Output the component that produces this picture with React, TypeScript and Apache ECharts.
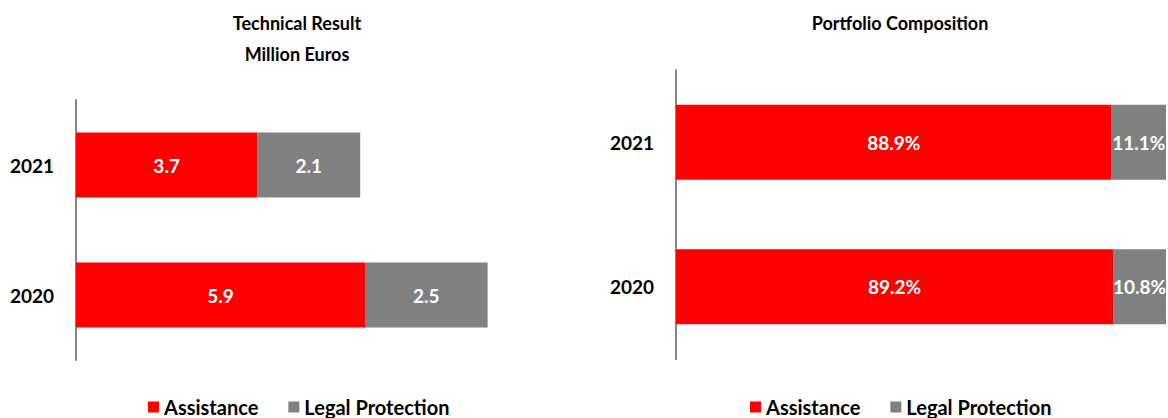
import React, { useEffect, useRef } from "react";
import * as echarts from "echarts";

const years = ["2020", "2021"];
const techAssistance = [5.9, 3.7];
const techLegal = [2.5, 2.1];
const portAssistance = [89.2, 88.9];
const portLegal = [10.8, 11.1];
const seriesNames = ["Assistance", "Legal Protection"];

const RED = "#FF0000";
const GREY = "#808080";
const FONT = "Lato";

export default function App() {
  const ref = useRef<HTMLDivElement>(null);
  useEffect(() => {
    document.body.style.margin = "0";
    const chart = echarts.init(ref.current!, null, { renderer: "svg" });
    const label = (fmt: (v: number) => string) => ({
      show: true,
      position: "inside",
      color: "#fff",
      fontFamily: FONT,
      fontWeight: "bold",
      fontSize: 19,
      formatter: (p: any) => fmt(p.value),
    });
    const catAxis = (gi: number) => ({
      type: "category",
      gridIndex: gi,
      data: years,
      axisLine: { show: true, lineStyle: { color: "#868686", width: 2 } },
      axisTick: { show: false },
      axisLabel: {
        color: "#000",
        fontFamily: FONT,
        fontWeight: "bold",
        fontSize: 19,
        margin: 22,
      },
    });
    const valAxis = (gi: number, max: number) => ({
      type: "value",
      gridIndex: gi,
      min: 0,
      max,
      show: false,
      splitLine: { show: false },
    });
    const legendCommon = {
      data: seriesNames,
      itemWidth: 11,
      itemHeight: 11,
      itemGap: 30,
      padding: 0,
      icon: "rect",
      textStyle: { fontFamily: FONT, fontWeight: "bold", fontSize: 20, color: "#000" },
      selectedMode: false,
    };
    const titleStyle = {
      fontFamily: FONT,
      fontWeight: "bold",
      fontSize: 18,
      color: "#000",
      lineHeight: 31,
    };
    chart.setOption({
      animation: false,
      title: [
        {
          text: "Technical Result\nMillion Euros",
          left: 292,
          textAlign: "center",
          top: 2,
          textStyle: titleStyle,
        },
        {
          text: "Portfolio Composition",
          left: 895,
          textAlign: "center",
          top: 2,
          textStyle: titleStyle,
        },
      ],
      legend: [
        { ...legendCommon, left: 148, top: 397 },
        { ...legendCommon, left: 750, top: 397 },
      ],
      grid: [
        { left: 76, top: 100, width: 490, height: 260, containLabel: false },
        { left: 676, top: 70, width: 490, height: 289, containLabel: false },
      ],
      xAxis: [valAxis(0, 10), valAxis(1, 100)],
      yAxis: [catAxis(0), catAxis(1)],
      series: [
        {
          name: seriesNames[0],
          type: "bar",
          stack: "a",
          xAxisIndex: 0,
          yAxisIndex: 0,
          data: techAssistance,
          barWidth: 65,
          itemStyle: { color: RED },
          label: label((v) => v.toFixed(1)),
        },
        {
          name: seriesNames[1],
          type: "bar",
          stack: "a",
          xAxisIndex: 0,
          yAxisIndex: 0,
          data: techLegal,
          barWidth: 65,
          itemStyle: { color: GREY },
          label: label((v) => v.toFixed(1)),
        },
        {
          name: seriesNames[0],
          type: "bar",
          stack: "b",
          xAxisIndex: 1,
          yAxisIndex: 1,
          data: portAssistance,
          barWidth: 75,
          itemStyle: { color: RED },
          label: label((v) => v.toFixed(1) + "%"),
        },
        {
          name: seriesNames[1],
          type: "bar",
          stack: "b",
          xAxisIndex: 1,
          yAxisIndex: 1,
          data: portLegal,
          barWidth: 75,
          itemStyle: { color: GREY },
          label: label((v) => v.toFixed(1) + "%"),
        },
      ],
    });
    return () => chart.dispose();
  }, []);
  return <div ref={ref} style={{ width: 1168, height: 418 }} />;
}
